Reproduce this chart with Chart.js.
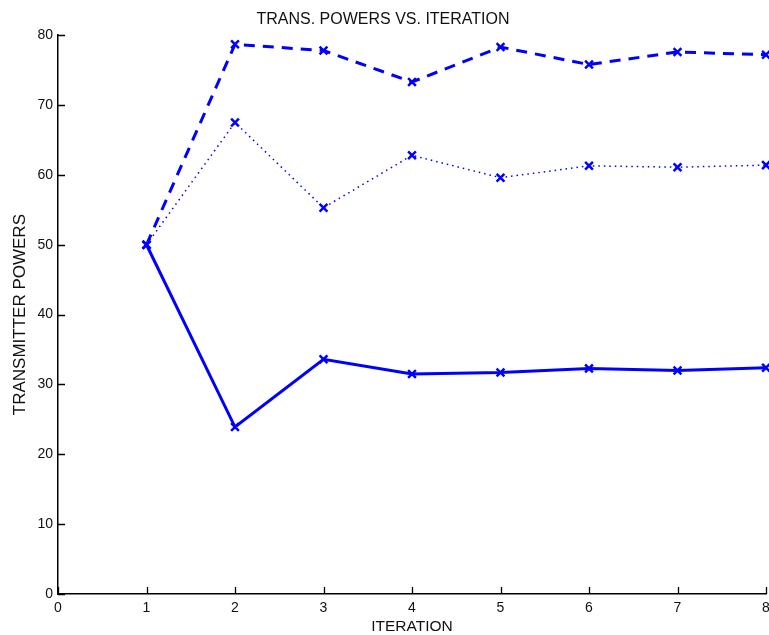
<!DOCTYPE html>
<html>
<head>
<meta charset="utf-8">
<script src="https://cdn.jsdelivr.net/npm/chart.js@4"></script>
<style>
  body { margin: 0; background: #fff; }
  #wrap { width: 769px; height: 635px; }
</style>
</head>
<body>
<div id="wrap"><canvas id="myChart"></canvas></div>
<script>
"use strict";
// iterations and transmitter powers
const iterations = [1, 2, 3, 4, 5, 6, 7, 8];
const powerSolid = [50, 23.9, 33.6, 31.5, 31.7, 32.3, 32.0, 32.4];
const powerDashed = [50, 78.7, 77.8, 73.3, 78.3, 75.8, 77.6, 77.2];
const powerDotted = [50, 67.5, 55.3, 62.8, 59.6, 61.3, 61.1, 61.4];
const xTicks = [0, 1, 2, 3, 4, 5, 6, 7, 8];
const yTicks = [0, 10, 20, 30, 40, 50, 60, 70, 80];

const font = "'Liberation Sans', Arial, sans-serif";
const blue = '#0000ff';

function pts(values) {
    return iterations.map((x, i) => ({ x: x, y: values[i] }));
}

// matlab style ticks pointing into the plot
const innerTicks = {
    id: 'innerTicks',
    afterDraw(chart) {
        const ctx = chart.ctx;
        const xs = chart.scales.x, ys = chart.scales.y;
        ctx.save();
        ctx.strokeStyle = '#000';
        ctx.lineWidth = 1.3;
        ctx.beginPath();
        yTicks.forEach(v => {
            const py = Math.round(ys.getPixelForValue(v)) + 0.5;
            ctx.moveTo(xs.left, py);
            ctx.lineTo(xs.left + 7, py);
        });
        xTicks.forEach(v => {
            const px = Math.round(xs.getPixelForValue(v)) + 0.5;
            ctx.moveTo(px, ys.bottom);
            ctx.lineTo(px, ys.bottom - 7);
        });
        ctx.stroke();
        ctx.restore();
    }
};

const marker = {
    pointStyle: 'crossRot',
    pointRadius: 5.5,
    pointBorderWidth: 2.5,
    pointBorderColor: blue
};

let myChart = document.getElementById("myChart").getContext('2d');
let powerChart = new Chart(myChart, {
    type: 'line',
    data: {
        datasets: [Object.assign({
            label: 'solid',
            data: pts(powerSolid),
            borderColor: blue,
            borderWidth: 3
        }, marker), Object.assign({
            label: 'dashed',
            data: pts(powerDashed),
            borderColor: blue,
            borderWidth: 3,
            borderDash: [11, 8]
        }, marker), Object.assign({
            label: 'dotted',
            data: pts(powerDotted),
            borderColor: blue,
            borderWidth: 1.5,
            borderDash: [1.5, 4]
        }, marker)]
    },
    options: {
        responsive: true,
        maintainAspectRatio: false,
        animation: false,
        clip: false,
        layout: { autoPadding: false, padding: { left: 0, right: 3, top: 0, bottom: 0 } },
        plugins: {
            legend: { display: false },
            tooltip: { enabled: false },
            title: {
                display: true,
                text: 'TRANS. POWERS VS. ITERATION',
                color: '#111',
                font: { family: font, size: 16, weight: 'normal' },
                padding: { top: 10, bottom: 6 }
            }
        },
        scales: {
            x: {
                type: 'linear',
                min: 0,
                max: 8,
                grid: { display: false, drawTicks: false },
                border: { display: true, color: '#000', width: 1.5 },
                ticks: {
                    stepSize: 1,
                    color: '#111',
                    padding: 6,
                    font: { family: font, size: 14 },
                    maxRotation: 0
                },
                title: {
                    display: true,
                    text: 'ITERATION',
                    color: '#111',
                    font: { family: font, size: 15.5 },
                    padding: { top: 2, bottom: -1.5 }
                },
                afterFit(scale) {
                    scale.paddingRight = 0;
                    scale.paddingLeft = 0;
                    scale.height = 41;
                }
            },
            y: {
                min: 0,
                max: 80,
                grid: { display: false, drawTicks: false },
                border: { display: true, color: '#000', width: 1.5 },
                ticks: {
                    stepSize: 10,
                    color: '#111',
                    padding: 5,
                    font: { family: font, size: 14 }
                },
                title: {
                    display: true,
                    text: 'TRANSMITTER POWERS',
                    color: '#111',
                    font: { family: font, size: 17 },
                    padding: { top: 10, bottom: 2 }
                },
                afterFit(scale) {
                    scale.width = 58;
                }
            }
        }
    },
    plugins: [innerTicks]
});
</script>
</body>
</html>
